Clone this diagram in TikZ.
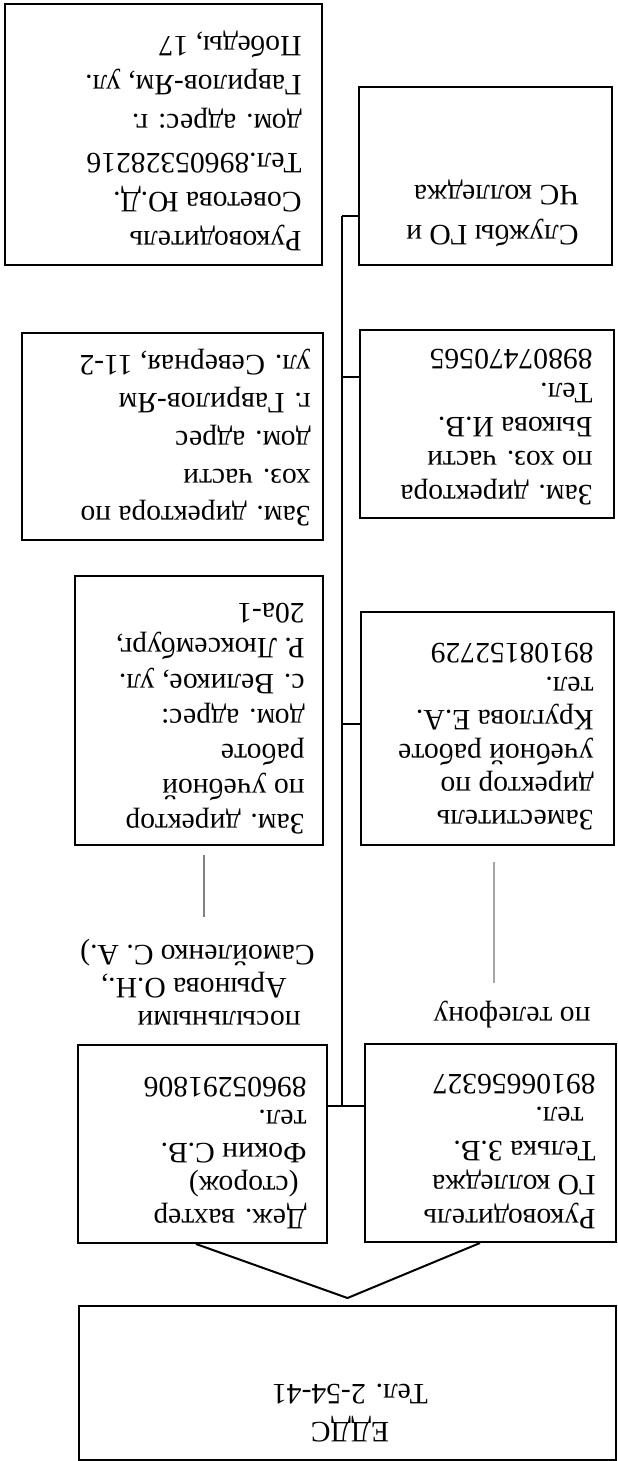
\documentclass[tikz,border=0pt]{standalone}
\usepackage{fontspec}
\setmainfont{Liberation Serif}
\usepackage{graphicx}
\usetikzlibrary{calc}
\begin{document}
\begin{tikzpicture}[x=0.5pt,y=-0.5pt,
  bx/.style={draw, line width=1pt, inner sep=0pt},
  txt/.style={rotate=180, align=left, inner sep=0pt, anchor=north west},
  conn/.style={line width=1pt},
  grayA/.style={line width=1.3pt, draw=black!50},
  grayB/.style={line width=0.8pt, draw=black!35}]
\useasboundingbox (0,0) rectangle (617,1461);
% boxes
\node[bx, minimum width=158.5pt, minimum height=130.5pt] (A) at (163.5,134.5) {};
\node[bx, minimum width=126.5pt, minimum height=89pt] (B) at (485.5,176) {};
\node[bx, minimum width=150.5pt, minimum height=103.5pt] (C) at (172.5,436.5) {};
\node[bx, minimum width=127pt, minimum height=94pt] (D) at (487,424) {};
\node[bx, minimum width=124pt, minimum height=134.5pt] (E) at (199,710.5) {};
\node[bx, minimum width=126.5pt, minimum height=116.5pt] (F) at (487.5,728.5) {};
\node[bx, minimum width=124.5pt, minimum height=99pt] (G) at (202.5,1144) {};
\node[bx, minimum width=125.5pt, minimum height=99pt] (H) at (490.5,1143) {};
\node[bx, minimum width=268.5pt, minimum height=77pt] (I) at (347.5,1383) {};
% texts
\node[txt, font=\fontsize{14.8pt}{19.5pt}\selectfont] (tA) at (302,251)
  {Руководитель\\Советова Ю.Д.\\Тел.89605328216\\дом. адрес: г.\\Гаврилов-Ям, ул.\\Победы, 17};
\node[txt, font=\fontsize{14.8pt}{20pt}\selectfont] (tB) at (579,247)
  {Службы ГО и\\ЧС колледжа};
\node[txt, font=\fontsize{14.8pt}{18.9pt}\selectfont] (tC) at (311,527)
  {Зам. директора по\\хоз. части\\дом. адрес\\г. Гаврилов-Ям\\ул. Северная, 11-2};
\node[txt, font=\fontsize{14.8pt}{17.1pt}\selectfont] (tD) at (593,506)
  {Зам. директора\\по хоз. части\\Быкова И.В.\\Тел.\\89807470565};
\node[txt, font=\fontsize{14.8pt}{17.6pt}\selectfont] (tE) at (305,835)
  {Зам. директор\\по учебной\\работе\\дом. адрес:\\с. Великое, ул.\\Р. Люксембург,\\20а-1};
\node[txt, font=\fontsize{14.8pt}{16.7pt}\selectfont] (tF) at (594,831)
  {Заместитель\\директор по\\учебной работе\\Круглова Е.А.\\тел.\\89108152729};
\node[txt, font=\fontsize{14.8pt}{16.5pt}\selectfont] (tG) at (307,1229)
  {Деж. вахтер\\\hspace*{4pt}(сторож)\\Фокин С.В.\\тел.\\89605291806};
\node[txt, font=\fontsize{14.8pt}{16.9pt}\selectfont] (tH) at (596,1229)
  {Руководитель\\ГО колледжа\\Телька З.В.\\\hspace*{6pt}тел.\\89106656327};
\node[rotate=180, align=center, inner sep=0pt, font=\fontsize{14.8pt}{19pt}\selectfont] (tI) at (350,1413)
  {ЕДДС\\Тел. 2-54-41};
% side labels
\node[txt, font=\fontsize{14.8pt}{16.5pt}\selectfont] (lp) at (315,1026)
  {\hspace*{7pt}посыльными\\\hspace*{14pt}Арынова О.Н.,\\Самойленко С. А.)};
\node[rotate=180, inner sep=0pt, font=\fontsize{14.8pt}{17pt}\selectfont] (lt) at (512,1015) {по телефону};
% connectors
\coordinate (s1) at (342,216);
\coordinate (s2) at (342,377);
\coordinate (s3) at (342,724);
\coordinate (s4) at (342,1106);
\draw[conn] (s1) -- (s4);
\draw[conn] (s1) -- (s1 -| B.west);
\draw[conn] (s2) -- (s2 -| D.west);
\draw[conn] (s3) -- (s3 -| F.west);
\draw[conn] (s4 -| G.east) -- (s4 -| H.west);
\draw[conn] ([xshift=-3.25pt]G.south) -- ([yshift=3.5pt]I.north) -- ([xshift=-5.25pt]H.south);
% gray marks
\coordinate (g1) at (204,855);
\coordinate (g2) at (204,917);
\coordinate (g3) at (494,862);
\coordinate (g4) at (494,983);
\draw[grayA] (g1) -- (g2);
\draw[grayB] (g3) -- (g4);
\end{tikzpicture}
\end{document}
